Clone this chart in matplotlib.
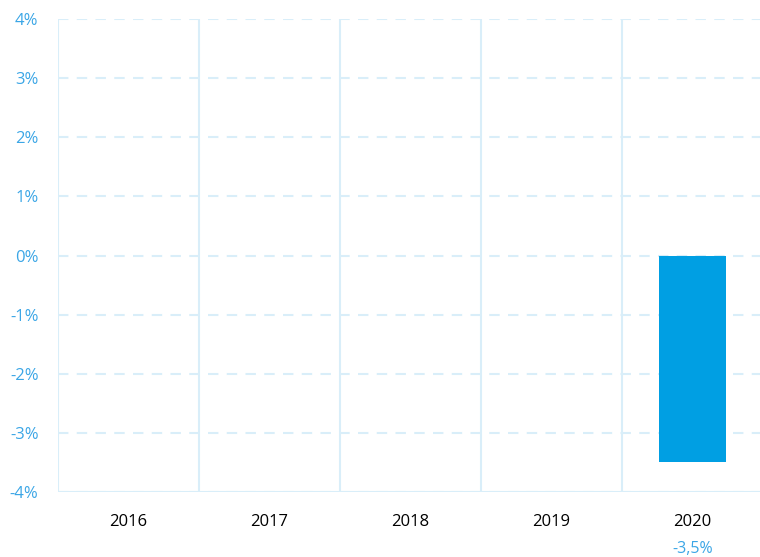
import numpy as np
import matplotlib
matplotlib.use("Agg")
import matplotlib.pyplot as plt
from matplotlib.ticker import FuncFormatter

#%% data
years = ['2016', '2017', '2018', '2019', '2020']
values = [np.nan, np.nan, np.nan, np.nan, -3.5]
value_labels = ['', '', '', '', '-3,5%']

blue = '#009fe3'
label_blue = '#3ba6e6'
grid_col = '#d9eef9'

plt.rcParams['font.family'] = ['Open Sans', 'DejaVu Sans']

fig = plt.figure(figsize=(7.6, 5.57), dpi=100)
ax = fig.add_axes([58/760, 1-492/557, 1-58/760, (492-19)/557])

x = np.arange(len(years))
ax.bar(x, values, width=0.475, color=blue, zorder=3)

ax.set_ylim(-4, 4)
ax.set_xlim(-0.5, len(years)-0.5-3/141)
ax.set_yticks(np.arange(-4, 5, 1))
ax.yaxis.set_major_formatter(FuncFormatter(lambda v, p: '%d%%' % v))

# horizontal dashed grid
for yv in np.arange(-4, 5, 1):
    ax.axhline(yv, color=grid_col, lw=1.5, ls=(0, (5, 4)), zorder=1)
# vertical separators between categories
for xv in np.arange(-0.5, len(years)+0.5, 1):
    ax.axvline(xv, color=grid_col, lw=1.5, zorder=1)
ax.axhline(-4, color=grid_col, lw=1.5, zorder=1)

for s in ax.spines.values():
    s.set_visible(False)
ax.tick_params(axis='both', length=0)
ax.tick_params(axis='y', labelcolor=label_blue, labelsize=12, pad=14)
ax.set_xticks(x)
ax.set_xticklabels(years, fontsize=12, color='black')
ax.tick_params(axis='x', pad=16)

for xi, lab in zip(x, value_labels):
    if lab:
        ax.annotate(lab, xy=(xi, -4), xytext=(0, -57), textcoords='offset pixels',
                    ha='center', va='center', fontsize=11.5, color=label_blue,
                    annotation_clip=False)

fig.savefig('out.png', dpi=100)
